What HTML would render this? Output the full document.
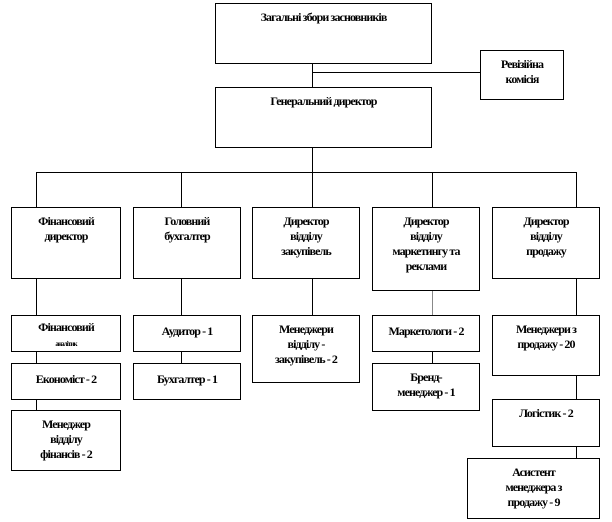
<!DOCTYPE html>
<html><head><meta charset="utf-8"><style>
body{margin:0;width:612px;height:522px;background:#fff;position:relative;overflow:hidden;font-family:"Liberation Serif",serif;}
.b{position:absolute;border:1.3px solid #000;box-sizing:border-box;text-align:center;font-weight:bold;font-size:12px;line-height:15px;padding-top:6px;letter-spacing:-0.9px;color:#000;}
.l{position:absolute;background:#000;}
.h{height:1.3px}.v{width:1.3px}
</style></head><body>
<div class="b" style="left:215px;top:3px;width:217px;height:61px;">Загальні збори засновників</div>
<div class="b" style="left:480px;top:50px;width:84px;height:50px;padding-top:6px;">Ревізійна<br>комісія</div>
<div class="l v" style="left:312px;top:64px;height:24px;"></div>
<div class="l h" style="left:312px;top:72px;width:168px;"></div>
<div class="b" style="left:215px;top:87px;width:217px;height:61px;">Генеральний директор</div>
<div class="l v" style="left:312px;top:148px;height:25px;"></div>
<div class="l h" style="left:36px;top:172px;width:541px;"></div>
<div class="l v" style="left:36px;top:172px;height:36px;"></div>
<div class="l v" style="left:181px;top:172px;height:36px;"></div>
<div class="l v" style="left:312px;top:172px;height:36px;"></div>
<div class="l v" style="left:432px;top:172px;height:36px;"></div>
<div class="l v" style="left:576px;top:172px;height:36px;"></div>

<div class="b" style="left:11px;top:207px;width:110px;height:72px;">Фінансовий<br>директор</div>
<div class="b" style="left:133px;top:207px;width:108px;height:72px;">Головний<br>бухгалтер</div>
<div class="b" style="left:252px;top:207px;width:108px;height:72px;">Директор<br>відділу<br>закупівель</div>
<div class="b" style="left:372px;top:207px;width:108px;height:84px;">Директор<br>відділу<br>маркетингу та<br>реклами</div>
<div class="b" style="left:492px;top:207px;width:108px;height:72px;">Директор<br>відділу<br>продажу</div>

<div class="l v" style="left:36px;top:279px;height:37px;"></div>
<div class="l v" style="left:181px;top:279px;height:37px;"></div>
<div class="l v" style="left:312px;top:279px;height:37px;"></div>
<div class="l v" style="left:432px;top:291px;height:25px;background:#888;"></div>
<div class="l v" style="left:576px;top:279px;height:37px;"></div>

<div class="b" style="left:11px;top:315px;width:110px;height:37px;padding-top:4px;">Фінансовий<br><span style="font-size:7px">аналітик</span></div>
<div class="b" style="left:133px;top:315px;width:108px;height:37px;padding-top:8px;">Аудитор - 1</div>
<div class="b" style="left:252px;top:315px;width:108px;height:68px;">Менеджери<br>відділу -<br>закупівель - 2</div>
<div class="b" style="left:372px;top:315px;width:108px;height:37px;padding-top:8px;">Маркетологи - 2</div>
<div class="b" style="left:492px;top:315px;width:108px;height:61px;">Менеджери з<br>продажу - 20</div>

<div class="l v" style="left:36px;top:352px;height:12px;"></div>
<div class="l v" style="left:181px;top:352px;height:12px;"></div>
<div class="l v" style="left:432px;top:352px;height:12px;"></div>
<div class="l v" style="left:576px;top:376px;height:24px;"></div>

<div class="b" style="left:11px;top:363px;width:110px;height:37px;padding-top:8px;">Економіст - 2</div>
<div class="b" style="left:133px;top:363px;width:108px;height:37px;padding-top:8px;">Бухгалтер - 1</div>
<div class="b" style="left:372px;top:363px;width:108px;height:48px;">Бренд-<br>менеджер - 1</div>
<div class="b" style="left:492px;top:399px;width:108px;height:48px;">Логістик - 2</div>

<div class="l v" style="left:36px;top:400px;height:11px;"></div>
<div class="l v" style="left:576px;top:447px;height:12px;"></div>

<div class="b" style="left:11px;top:410px;width:110px;height:61px;">Менеджер<br>відділу<br>фінансів - 2</div>
<div class="b" style="left:467px;top:458px;width:133px;height:61px;">Асистент<br>менеджера з<br>продажу - 9</div>
</body></html>
